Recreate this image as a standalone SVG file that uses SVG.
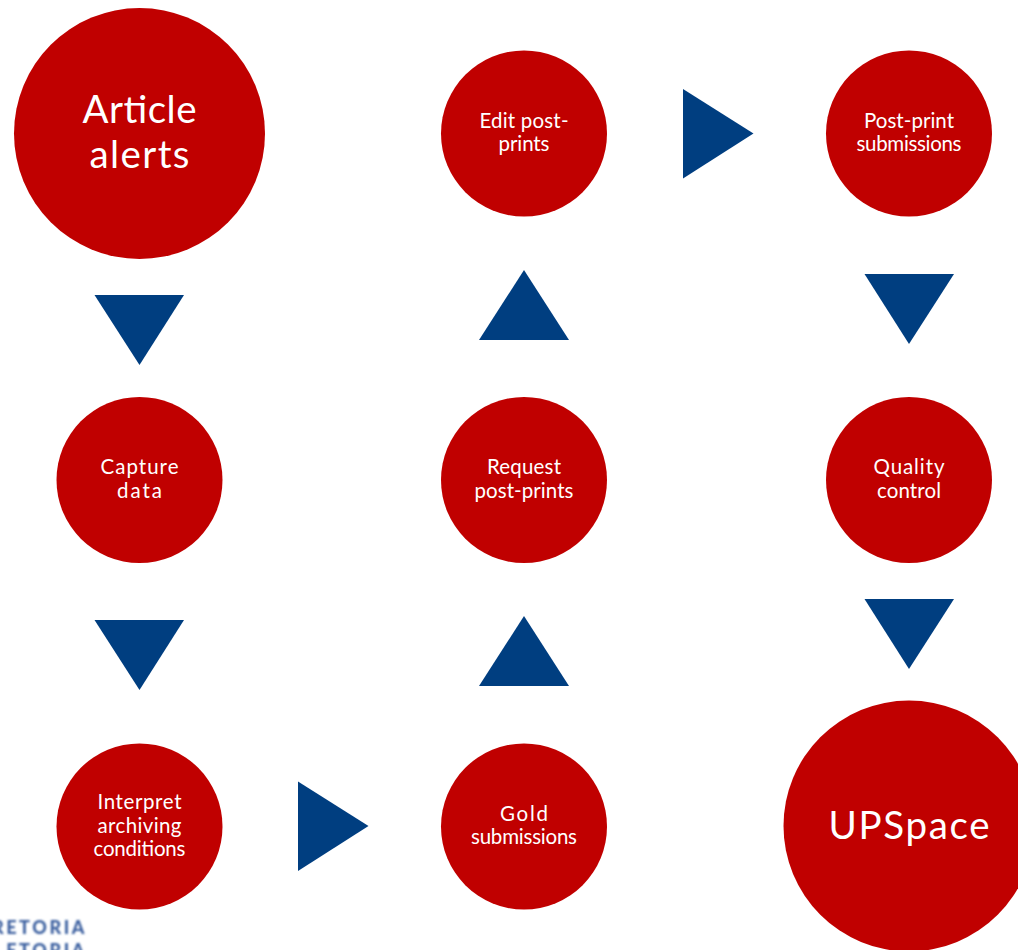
<svg xmlns="http://www.w3.org/2000/svg" width="1018" height="950" viewBox="0 0 1018 950">
<style>
.n{fill:#c00000}
.a{fill:#003e80}
text{font-family:"Lato","Liberation Sans",sans-serif;fill:#fff;text-anchor:middle}
.s{font-size:20.5px}
.b{font-size:38.5px}
.l{font-size:18px;font-weight:900;fill:#3a5f9f;letter-spacing:2.6px;text-anchor:end}
</style>
<defs><filter id="blur" x="-10%" y="-30%" width="120%" height="160%"><feGaussianBlur stdDeviation="0.8"/></filter></defs>
<rect width="1018" height="950" fill="#fff"/>
<g id="connectors">
<polygon class="a" points="94.500,295 184,295 139.500,365"/>
<polygon class="a" points="94.500,620 184,620 139.500,690"/>
<polygon class="a" points="298,781.500 298,871 368.500,826"/>
<polygon class="a" points="479,686 569,686 524,616"/>
<polygon class="a" points="479,340 569,340 524,270"/>
<polygon class="a" points="683,89 683,178.500 753.500,133.500"/>
<polygon class="a" points="864.500,274 954,274 909,344"/>
<polygon class="a" points="864.500,599 954,599 909,669"/>
</g>
<g id="article-alerts"><circle class="n" cx="139.500" cy="133.500" r="125.500"/><text class="b" x="139.500" y="123" textLength="114">Article</text><text class="b" x="139.500" y="168" textLength="100">alerts</text></g>
<g id="capture-data"><circle class="n" cx="139.500" cy="480" r="83"/><text class="s" x="139.500" y="474" textLength="78">Capture</text><text class="s" x="139.500" y="498" textLength="45">data</text></g>
<g id="interpret"><circle class="n" cx="139.500" cy="826.500" r="83"/><text class="s" x="139.500" y="809" textLength="84">Interpret</text><text class="s" x="139.500" y="833" textLength="84">archiving</text><text class="s" x="139.500" y="856" textLength="92">conditions</text></g>
<g id="gold"><circle class="n" cx="524" cy="826.500" r="83"/><text class="s" x="524" y="821" textLength="48">Gold</text><text class="s" x="524" y="844" textLength="106">submissions</text></g>
<g id="request"><circle class="n" cx="524" cy="480" r="83"/><text class="s" x="524" y="474" textLength="74">Request</text><text class="s" x="524" y="498" textLength="99">post-prints</text></g>
<g id="edit"><circle class="n" cx="524" cy="133.500" r="83"/><text class="s" x="524" y="128" textLength="89">Edit post-</text><text class="s" x="524" y="151" textLength="51">prints</text></g>
<g id="post-print"><circle class="n" cx="909" cy="133.500" r="83"/><text class="s" x="909" y="128" textLength="90">Post-print</text><text class="s" x="909" y="151" textLength="105">submissions</text></g>
<g id="quality"><circle class="n" cx="909" cy="480" r="83"/><text class="s" x="909" y="474" textLength="71">Quality</text><text class="s" x="909" y="498" textLength="64">control</text></g>
<g id="upspace"><circle class="n" cx="909" cy="826" r="125.500"/><text class="b" x="909" y="838.500" textLength="161">UPSpace</text></g>
<g id="logo" filter="url(#blur)"><text class="l" x="87" y="934">RETORIA</text><text class="l" x="87" y="957">ETORIA</text></g>
</svg>
